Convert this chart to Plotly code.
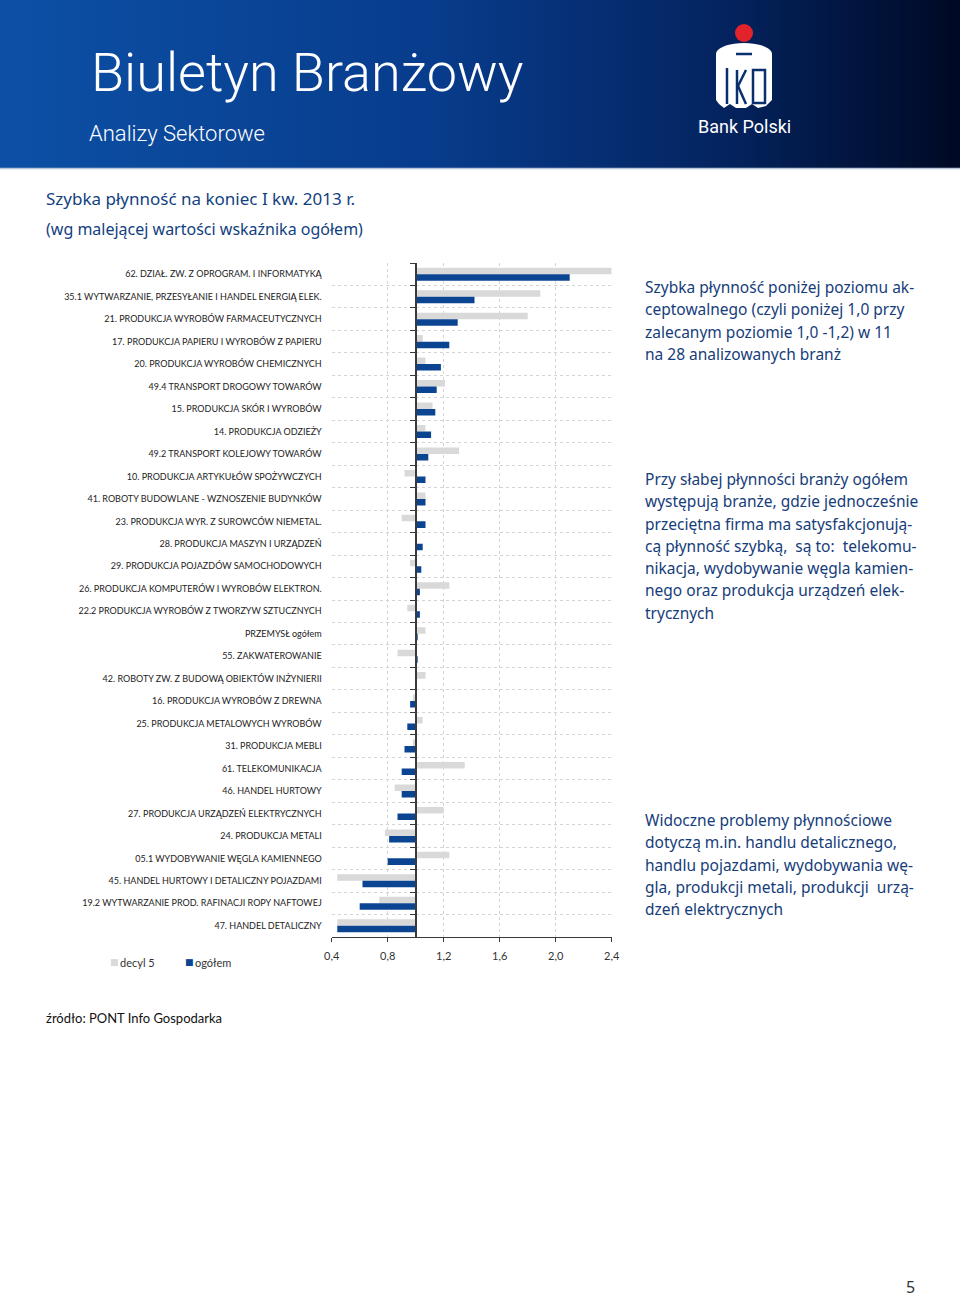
import math
import plotly.graph_objects as go

W, H = 960, 1298

categories = [
    "62. DZIAŁ. ZW. Z OPROGRAM. I INFORMATYKĄ",
    "35.1 WYTWARZANIE, PRZESYŁANIE I HANDEL ENERGIĄ ELEK.",
    "21. PRODUKCJA WYROBÓW FARMACEUTYCZNYCH",
    "17. PRODUKCJA PAPIERU I WYROBÓW Z PAPIERU",
    "20. PRODUKCJA WYROBÓW CHEMICZNYCH",
    "49.4 TRANSPORT DROGOWY TOWARÓW",
    "15. PRODUKCJA SKÓR I WYROBÓW",
    "14. PRODUKCJA ODZIEŻY",
    "49.2 TRANSPORT KOLEJOWY TOWARÓW",
    "10. PRODUKCJA ARTYKUŁÓW SPOŻYWCZYCH",
    "41. ROBOTY BUDOWLANE - WZNOSZENIE BUDYNKÓW",
    "23. PRODUKCJA WYR. Z SUROWCÓW NIEMETAL.",
    "28. PRODUKCJA MASZYN I URZĄDZEŃ",
    "29. PRODUKCJA POJAZDÓW SAMOCHODOWYCH",
    "26. PRODUKCJA KOMPUTERÓW I WYROBÓW ELEKTRON.",
    "22.2 PRODUKCJA WYROBÓW Z TWORZYW SZTUCZNYCH",
    "PRZEMYSŁ ogółem",
    "55. ZAKWATEROWANIE",
    "42. ROBOTY ZW. Z BUDOWĄ OBIEKTÓW INŻYNIERII",
    "16. PRODUKCJA WYROBÓW Z DREWNA",
    "25. PRODUKCJA METALOWYCH WYROBÓW",
    "31. PRODUKCJA MEBLI",
    "61. TELEKOMUNIKACJA",
    "46. HANDEL HURTOWY",
    "27. PRODUKCJA URZĄDZEŃ ELEKTRYCZNYCH",
    "24. PRODUKCJA METALI",
    "05.1 WYDOBYWANIE WĘGLA KAMIENNEGO",
    "45. HANDEL HURTOWY I DETALICZNY POJAZDAMI",
    "19.2 WYTWARZANIE PROD. RAFINACJI ROPY NAFTOWEJ",
    "47. HANDEL DETALICZNY",
]

decyl5 = [2.40, 1.89, 1.80, 1.05, 1.07, 1.21, 1.12, 1.07, 1.31, 0.92,
          1.07, 0.90, 1.00, 0.96, 1.24, 0.94, 1.07, 0.87, 1.07, 0.98,
          1.05, 0.98, 1.35, 0.85, 1.20, 0.78, 1.24, 0.44, 0.74, 0.44]

ogolem = [2.10, 1.42, 1.30, 1.24, 1.18, 1.15, 1.14, 1.11, 1.09, 1.07,
          1.07, 1.07, 1.05, 1.04, 1.03, 1.03, 1.01, 1.01, 1.00, 0.96,
          0.94, 0.92, 0.90, 0.90, 0.87, 0.81, 0.80, 0.62, 0.60, 0.44]

x_ticks = [0.4, 0.8, 1.2, 1.6, 2.0, 2.4]
base_level = 1.0
series_names = ["decyl 5", "ogółem"]
series_colors = ["#d9d9d9", "#0b4592"]

# ---- geometry helpers (page pixel -> paper) ----
# the page shows the paper area in a 944 px wide box starting 8 px from the left
OFF_X, VIS_W = 8.0, 944.0

def px(x):
    return (x - OFF_X) / VIS_W

def py(y):
    return 1 - y / H

X0, X1 = 331.7, 611.7
Y0, Y1 = 263, 937
xdom = [px(X0), px(X1)]
ydom = [py(Y1), py(Y0)]
xmin, xmax = x_ticks[0], x_ticks[-1]
axis_pos = xdom[0] + (base_level - xmin) / (xmax - xmin) * (xdom[1] - xdom[0])

fig = go.Figure()

for name, vals, col in zip(series_names, [decyl5, ogolem], series_colors):
    fig.add_trace(go.Bar(
        orientation="h", y=categories, x=[v - base_level for v in vals],
        base=base_level, name=name, marker=dict(color=col, line=dict(width=0)),
        showlegend=False, customdata=vals,
        hovertemplate="%{y}<br>" + name + ": %{customdata}<extra></extra>",
    ))

# invisible helper trace for the axis drawn at the 1.0 level
fig.add_trace(go.Scatter(
    x=[base_level] * len(categories), y=categories, yaxis="y2", mode="markers",
    marker=dict(opacity=0), hoverinfo="skip", showlegend=False,
))

n = len(categories)
yrange = [n - 0.5, -0.5]

fig.update_layout(
    width=W, height=H, autosize=False,
    margin=dict(l=0, r=0, t=0, b=0),
    paper_bgcolor="white", plot_bgcolor="white",
    barmode="group", bargap=0.42, bargroupgap=0,
    showlegend=False,
    font=dict(family="Lato, sans-serif", color="#222"),
    xaxis=dict(
        domain=xdom, range=[xmin, xmax], tickvals=x_ticks,
        ticktext=[f"{v:.1f}".replace(".", ",") for v in x_ticks],
        showgrid=True, gridcolor="#d4d4d4", griddash="dot", gridwidth=1,
        showline=True, linecolor="#3a3a3a", linewidth=1,
        ticks="outside", ticklen=4, tickcolor="#3a3a3a",
        tickfont=dict(size=11, color="#333", family="Lato, sans-serif"),
        ticklabelstandoff=5, zeroline=False, fixedrange=True,
    ),
    yaxis=dict(
        domain=ydom, type="category", categoryorder="array",
        categoryarray=categories, range=yrange, tickson="boundaries",
        ticks="", showgrid=True, gridcolor="#d4d4d4", griddash="dot",
        gridwidth=1, showline=False, zeroline=False,
        tickfont=dict(size=9, color="#222", family="Lato, sans-serif"),
        ticklabelstandoff=9, fixedrange=True,
    ),
    yaxis2=dict(
        overlaying="y", anchor="free", position=axis_pos, side="left",
        type="category", categoryorder="array", categoryarray=categories,
        range=yrange, tickson="boundaries", ticks="outside", ticklen=5,
        tickcolor="#3a3a3a", showline=True, linecolor="#3a3a3a",
        linewidth=1.5, showticklabels=False, showgrid=False,
        zeroline=False, fixedrange=True,
    ),
)

shapes = []
# ---- header gradient band ----
stops = [(0.0, (12, 80, 165)), (0.45, (8, 60, 140)), (0.75, (4, 36, 96)),
         (1.0, (0, 9, 36))]

def grad(t):
    for (t0, c0), (t1, c1) in zip(stops[:-1], stops[1:]):
        if t0 <= t <= t1:
            f = (t - t0) / (t1 - t0)
            return "rgb(%d,%d,%d)" % tuple(round(a + (b - a) * f) for a, b in zip(c0, c1))
    return "rgb(%d,%d,%d)" % stops[-1][1]

step = 6
for i in range(0, W, step):
    shapes.append(dict(type="rect", xref="paper", yref="paper",
                       x0=px(i), x1=px(min(i + step + 1, W)), y0=py(168), y1=py(0),
                       fillcolor=grad((i + step / 2) / W), line=dict(width=0),
                       layer="below"))
shapes.append(dict(type="line", xref="paper", yref="paper", x0=px(0), x1=px(W),
                   y0=py(168.5), y1=py(168.5), line=dict(color="#b9c6da", width=1.5)))

# ---- logo ----
def path(points, close=True):
    s = "M " + " L ".join(f"{px(x):.5f},{py(y):.5f}" for x, y in points)
    return s + (" Z" if close else "")

shapes.append(dict(type="circle", xref="paper", yref="paper",
                   x0=px(735), x1=px(753), y0=py(42), y1=py(24),
                   fillcolor="#e3232c", line=dict(width=0)))
body = []
for k in range(0, 181, 10):
    a = math.radians(180 + k)
    body.append((744 + 28 * math.cos(a), 54 + 11 * math.sin(a)))
body += [(772, 100), (766, 106), (758, 108), (752, 104), (746, 108),
         (736, 108), (730, 104), (724, 108), (719, 104), (716, 100)]
shapes.append(dict(type="path", xref="paper", yref="paper", path=path(body),
                   fillcolor="white", line=dict(width=0)))
logo_blue = "#0a2f6e"
shapes.append(dict(type="line", xref="paper", yref="paper", x0=px(736), x1=px(752),
                   y0=py(54), y1=py(54), line=dict(color=logo_blue, width=2.5)))
for pts in [
    [(727, 68), (727, 104)],
    [(737, 70), (737, 104)],
    [(738, 86), (746, 70)],
    [(738, 86), (746, 104)],
]:
    shapes.append(dict(type="path", xref="paper", yref="paper", path=path(pts, False),
                       line=dict(color=logo_blue, width=2.5)))
shapes.append(dict(type="rect", xref="paper", yref="paper", x0=px(753), x1=px(765),
                   y0=py(103), y1=py(70), line=dict(color=logo_blue, width=2.5)))

fig.update_layout(shapes=shapes)

# ---- texts ----
ann = []

def text(x, y, s, size, color, family="Noto Sans, sans-serif", xanchor="left", weight=None):
    f = dict(size=size, color=color, family=family)
    if weight:
        f["weight"] = weight
    ann.append(dict(xref="paper", yref="paper", x=px(x), y=py(y), text=s,
                    showarrow=False, xanchor=xanchor, yanchor="middle",
                    font=f, align="left"))

text(89, 73, "Biuletyn Branżowy", 54, "white", "Roboto, sans-serif", weight=300)
text(87, 134, "Analizy Sektorowe", 22, "white", "Roboto, sans-serif", weight=300)
text(744, 127, "Bank Polski", 18, "white", "Roboto, sans-serif", xanchor="center")

title_blue = "#123f80"
text(44, 198, "Szybka płynność na koniec I kw. 2013 r.", 17, title_blue)
text(44, 229, "(wg malejącej wartości wskaźnika ogółem)", 16, title_blue)

side_blue = "#163d7a"
blocks = [
    (287, ["Szybka płynność poniżej poziomu ak-",
           "ceptowalnego (czyli poniżej 1,0 przy",
           "zalecanym poziomie 1,0 -1,2) w 11",
           "na 28 analizowanych branż"]),
    (479, ["Przy słabej płynności branży ogółem",
           "występują branże, gdzie jednocześnie",
           "przeciętna firma ma satysfakcjonują-",
           "cą płynność szybką,  są to:  telekomu-",
           "nikacja, wydobywanie węgla kamien-",
           "nego oraz produkcja urządzeń elek-",
           "trycznych"]),
    (820, ["Widoczne problemy płynnościowe",
           "dotyczą m.in. handlu detalicznego,",
           "handlu pojazdami, wydobywania wę-",
           "gla, produkcji metali, produkcji  urzą-",
           "dzeń elektrycznych"]),
]
for y0, lines in blocks:
    for i, ln in enumerate(lines):
        text(643, y0 + i * 22.3, ln, 15.5, side_blue)

# legend (manual)
for (xs, label), col in zip([(111, series_names[0]), (186, series_names[1])], series_colors):
    text(xs - 3, 962, "■", 9, col, "DejaVu Sans, sans-serif")
    text(xs + 7, 962, label, 11, "#333", "Lato, sans-serif")

text(44, 1018, "źródło: PONT Info Gospodarka", 13, "#111", "Lato, sans-serif")
text(910, 1287, "5", 16, "#333", "Noto Sans, sans-serif", xanchor="center")

fig.update_layout(annotations=ann)
fig.write_html("out.html")
